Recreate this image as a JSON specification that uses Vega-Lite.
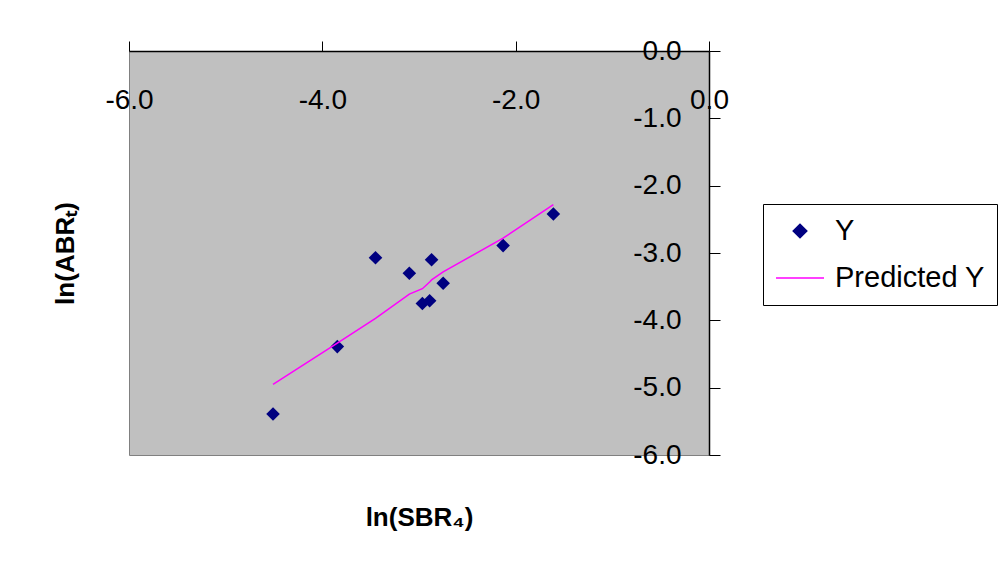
{
  "$schema": "https://vega.github.io/schema/vega-lite/v6.json",
  "autosize": {"type": "none"},
  "padding": {"left": 129, "top": 51, "right": 293, "bottom": 110},
  "width": 580,
  "height": 404,
  "background": "white",
  "config": {
    "view": {"stroke": "#808080", "fill": "#c0c0c0", "strokeWidth": 1},
    "font": "Liberation Sans"
  },
  "data": {
    "values": [
      {"x": -4.51, "y": -5.39, "yp": -4.95},
      {"x": -3.845, "y": -4.39, "yp": -4.34},
      {"x": -3.45, "y": -3.07, "yp": -3.97},
      {"x": -3.10, "y": -3.30, "yp": -3.61},
      {"x": -2.965, "y": -3.75, "yp": -3.53},
      {"x": -2.89, "y": -3.71, "yp": -3.43},
      {"x": -2.87, "y": -3.10, "yp": -3.40},
      {"x": -2.75, "y": -3.45, "yp": -3.28},
      {"x": -2.13, "y": -2.89, "yp": -2.78},
      {"x": -1.61, "y": -2.42, "yp": -2.28}
    ]
  },
  "layer": [
    {
      "mark": {"type": "point", "shape": "diamond", "filled": true, "size": 185, "opacity": 1},
      "encoding": {
        "x": {
          "field": "x", "type": "quantitative",
          "scale": {"domain": [-6, 0], "nice": false, "zero": false},
          "axis": {
            "orient": "top", "values": [-6, -4, -2, 0], "format": ".1f", "title": null,
            "labelExpr": "replace(datum.label, '−', '-')",
            "tickSize": 10, "tickColor": "black", "domainColor": "black", "domainWidth": 1.5,
            "labelFontSize": 28, "labelColor": "black", "labelPadding": -59, "labelBaseline": "middle",
            "labelFlush": false, "labelOverlap": false, "grid": false
          }
        },
        "y": {
          "field": "y", "type": "quantitative",
          "scale": {"domain": [-6, 0], "nice": false, "zero": false},
          "axis": {
            "orient": "right", "values": [-6, -5, -4, -3, -2, -1, 0], "format": ".1f", "title": null,
            "labelExpr": "replace(datum.label, '−', '-')",
            "tickSize": 11, "tickColor": "black", "domainColor": "black", "domainWidth": 1.5,
            "labelFontSize": 28, "labelColor": "black", "labelPadding": -39, "labelAlign": "right",
            "labelBaseline": "middle", "labelFlush": false, "labelOverlap": false, "grid": false
          }
        },
        "color": {
          "datum": "Y", "type": "nominal",
          "scale": {"domain": ["Y", "Predicted Y"], "range": ["#000080", "#ff00ff"]},
          "legend": {
            "title": null, "orient": "none", "legendX": 634, "legendY": 153,
            "strokeColor": "black", "fillColor": "white", "padding": 12,
            "labelFontSize": 29, "labelColor": "black", "labelOffset": 10,
            "symbolSize": 2304, "clipHeight": 30, "rowPadding": 17, "symbolStrokeWidth": 1.5,
            "encode": {
              "symbols": {
                "update": {
                  "shape": {"signal": "datum.value === 'Y' ? 'diamond' : 'stroke'"},
                  "size": {"signal": "datum.value === 'Y' ? 185 : 2304"},
                  "fill": {"signal": "datum.value === 'Y' ? '#000080' : 'transparent'"},
                  "stroke": {"signal": "datum.value === 'Y' ? 'transparent' : '#ff00ff'"},
                  "strokeWidth": {"value": 1.5},
                  "opacity": {"value": 1}
                }
              }
            }
          }
        }
      }
    },
    {
      "mark": {"type": "line", "strokeWidth": 1.5},
      "encoding": {
        "x": {
          "field": "x", "type": "quantitative",
          "axis": {
            "orient": "bottom", "labels": false, "ticks": false, "domain": false, "grid": false,
            "title": "ln(SBR₄)", "titleFontSize": 26, "titleFontWeight": "bold", "titleColor": "black",
            "titlePadding": 62, "titleBaseline": "middle"
          }
        },
        "y": {
          "field": "yp", "type": "quantitative",
          "axis": {
            "orient": "left", "labels": false, "ticks": false, "domain": false, "grid": false,
            "title": "ln(ABRₜ)", "titleFontSize": 26, "titleFontWeight": "bold", "titleColor": "black",
            "titlePadding": 64, "titleBaseline": "middle"
          }
        },
        "color": {
          "datum": "Predicted Y", "type": "nominal",
          "legend": {
            "title": null, "orient": "none", "legendX": 634, "legendY": 153,
            "strokeColor": "black", "fillColor": "white", "padding": 12,
            "labelFontSize": 29, "labelColor": "black", "labelOffset": 10,
            "symbolSize": 2304, "clipHeight": 30, "rowPadding": 17, "symbolStrokeWidth": 1.5,
            "encode": {
              "symbols": {
                "update": {
                  "shape": {"signal": "datum.value === 'Y' ? 'diamond' : 'stroke'"},
                  "size": {"signal": "datum.value === 'Y' ? 185 : 2304"},
                  "fill": {"signal": "datum.value === 'Y' ? '#000080' : 'transparent'"},
                  "stroke": {"signal": "datum.value === 'Y' ? 'transparent' : '#ff00ff'"},
                  "strokeWidth": {"value": 1.5},
                  "opacity": {"value": 1}
                }
              }
            }
          }
        }
      }
    }
  ]
}
